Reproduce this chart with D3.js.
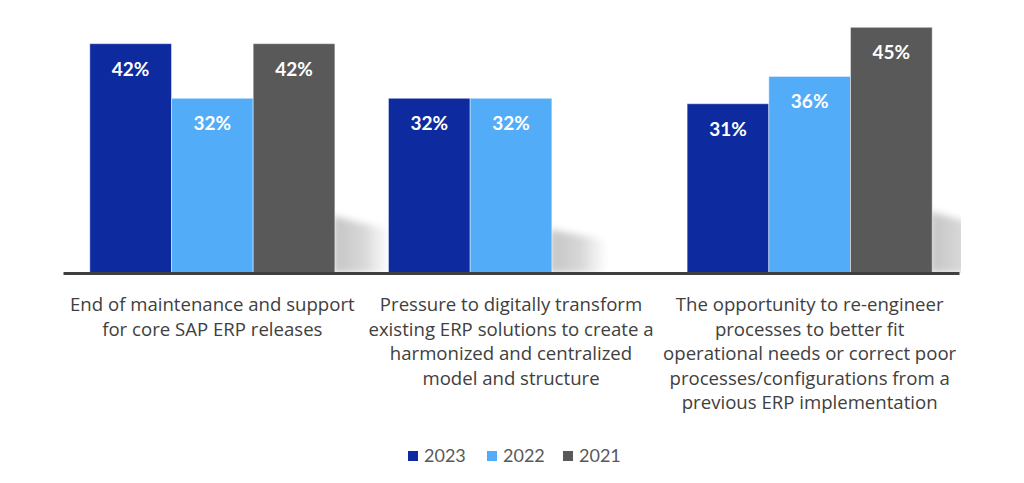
<!DOCTYPE html>
<html>
<head>
<meta charset="utf-8">
<script src="https://cdn.jsdelivr.net/npm/d3@7"></script>
<style>
  body { margin: 0; background: #ffffff; }
  .cat-label { font-family: "Open Sans", Lato, sans-serif; font-size: 18.6px; fill: #404040; }
  .bar-label { font-family: Lato, "Open Sans", sans-serif; font-size: 19px; font-weight: bold; fill: #ffffff; }
  .legend-text { font-family: Lato, "Open Sans", sans-serif; font-size: 18px; fill: #595959; }
</style>
</head>
<body>
<div id="chart"></div>
<script>
const WIDTH = 1024;
const HEIGHT = 483;

// data
const categories = ['maintenance', 'transform', 'reengineer'];
const categoryLines = [
    ['End of maintenance and support', 'for core SAP ERP releases'],
    ['Pressure to digitally transform', 'existing ERP solutions to create a', 'harmonized and centralized', 'model and structure'],
    ['The opportunity to re-engineer', 'processes to better fit', 'operational needs or correct poor', 'processes/configurations from a', 'previous ERP implementation']
];
const years = ['2023', '2022', '2021'];
const values2023 = [42, 32, 31];
const values2022 = [32, 32, 36];
const values2021 = [42, null, 45];
const yearColors = ['#0d2a9e', '#52acf7', '#595959'];

const seriesValues = [values2023, values2022, values2021];

const rows = categories.map((c, i) => ({
    category: c,
    lines: categoryLines[i],
    bars: years
        .map((yr, j) => ({ year: yr, value: seriesValues[j][i], category: c }))
        .filter(b => b.value !== null)
}));

const xScale = d3.scaleBand()
    .domain(categories)
    .range([63, 959])
    .padding(0);

const xInner = d3.scaleBand()
    .domain(years)
    .range([0, xScale.bandwidth()])
    .paddingInner(0)
    .paddingOuter(0.328);

const yScale = d3.scaleLinear()
    .domain([0, 50])
    .range([273, 0]);

const colorScale = d3.scaleOrdinal().domain(years).range(yearColors);

const svg = d3.select('#chart')
    .append('svg')
    .attr('width', WIDTH)
    .attr('height', HEIGHT)
    .attr('viewBox', `0 0 ${WIDTH} ${HEIGHT}`);

const defs = svg.append('defs');

const grad = defs.append('linearGradient')
    .attr('id', 'shadow-grad')
    .attr('x1', '0%').attr('y1', '0%')
    .attr('x2', '100%').attr('y2', '0%');
grad.append('stop').attr('offset', '0%').attr('stop-color', '#c4c4c4');
grad.append('stop').attr('offset', '55%').attr('stop-color', '#d8d8d8');
grad.append('stop').attr('offset', '100%').attr('stop-color', '#ffffff');

defs.append('filter')
    .attr('id', 'shadow-blur')
    .attr('x', '-20%').attr('y', '-20%')
    .attr('width', '140%').attr('height', '140%')
    .append('feGaussianBlur')
    .attr('stdDeviation', 3.5);

defs.append('clipPath')
    .attr('id', 'plot-clip')
    .append('rect')
    .attr('x', 0)
    .attr('y', 0)
    .attr('width', 961)
    .attr('height', yScale(0));

// soft shadows behind the right side of each group
const shadowLayer = svg.append('g').attr('clip-path', 'url(#plot-clip)');
rows.forEach(row => {
    const last = row.bars[row.bars.length - 1];
    const xr = xScale(row.category) + xInner(last.year) + xInner.bandwidth();
    const base = yScale(0);
    const h = (base - yScale(last.value)) * 0.25;
    const w = 55;
    shadowLayer.append('polygon')
        .attr('points', [
            [xr - 2, base],
            [xr - 2, base - h],
            [xr + w, base - h * 0.75],
            [xr + w, base]
        ].map(p => p.join(',')).join(' '))
        .attr('fill', 'url(#shadow-grad)')
        .attr('filter', 'url(#shadow-blur)');
});

// bars
const groups = svg.selectAll('.group')
    .data(rows)
    .enter()
    .append('g')
    .attr('class', 'group')
    .attr('transform', d => `translate(${xScale(d.category)},0)`);

groups.selectAll('rect')
    .data(d => d.bars)
    .enter()
    .append('rect')
    .attr('x', d => xInner(d.year))
    .attr('y', d => yScale(d.value))
    .attr('width', xInner.bandwidth())
    .attr('height', d => yScale(0) - yScale(d.value))
    .attr('fill', d => colorScale(d.year))
    .attr('stroke', 'rgba(255,255,255,0.45)')
    .attr('stroke-width', 1);

groups.selectAll('.bar-label')
    .data(d => d.bars)
    .enter()
    .append('text')
    .attr('class', 'bar-label')
    .attr('x', d => xInner(d.year) + xInner.bandwidth() / 2)
    .attr('y', d => yScale(d.value) + 32)
    .attr('text-anchor', 'middle')
    .text(d => d.value + '%');

// baseline axis
const xAxis = d3.axisBottom(xScale).tickSize(0).tickFormat('');
const axisG = svg.append('g')
    .attr('transform', `translate(0,${yScale(0)})`)
    .call(xAxis);
axisG.select('.domain')
    .attr('stroke', '#404040')
    .attr('stroke-width', 3);

// category labels
rows.forEach(row => {
    const cx = xScale(row.category) + xScale.bandwidth() / 2;
    const t = svg.append('text')
        .attr('class', 'cat-label')
        .attr('text-anchor', 'middle')
        .attr('x', cx)
        .attr('y', 311);
    row.lines.forEach((line, i) => {
        t.append('tspan')
            .attr('x', cx)
            .attr('dy', i === 0 ? 0 : 24.5)
            .text(line);
    });
});

// legend
const legendX = [408, 487, 563];
const legend = svg.append('g').attr('class', 'legend');
years.forEach((yr, i) => {
    const item = legend.append('g')
        .attr('transform', `translate(${legendX[i]},451)`);
    item.append('rect')
        .attr('width', 10)
        .attr('height', 10)
        .attr('fill', colorScale(yr));
    item.append('text')
        .attr('class', 'legend-text')
        .attr('x', 16)
        .attr('y', 10.5)
        .text(yr);
});
</script>
</body>
</html>
